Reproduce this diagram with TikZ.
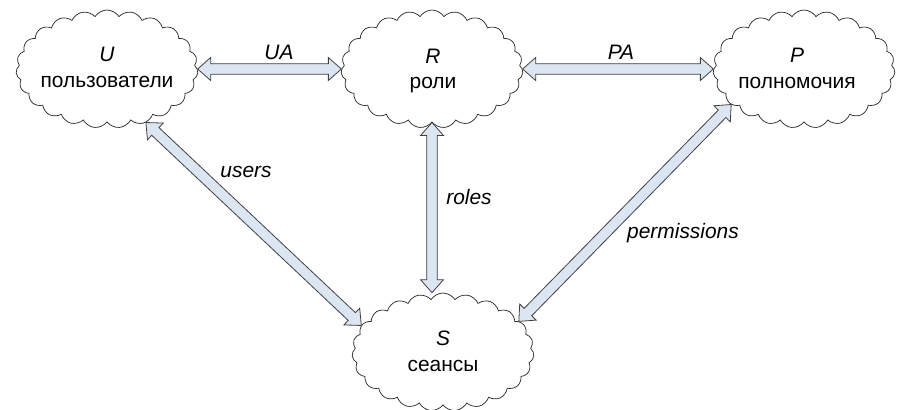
\documentclass[tikz,border=0pt]{standalone}
\usepackage{fontspec}
\setmainfont{Liberation Sans}
\usetikzlibrary{shapes.symbols,calc}
\definecolor{arrowfill}{HTML}{DCE6F2}
\definecolor{arrowline}{HTML}{404040}
\tikzset{
  cloudbox/.style={cloud, cloud puffs=23, cloud puff arc=115, cloud ignores aspect,
    draw=black!85, line width=0.7bp, fill=white,
    minimum width=182bp, minimum height=118bp, inner sep=0pt},
  cloudtext/.style={align=center, font=\fontsize{21}{26}\selectfont, inner sep=0pt},
  edgelabel/.style={font=\fontsize{21}{24}\selectfont\itshape, inner sep=0pt},
  % hollow double-headed block arrow between two points
  fatarrow/.style={draw=arrowline, fill=arrowfill, line width=0.8bp, line join=miter,
    to path={let \p1=(\tikztostart), \p2=(\tikztotarget),
      \n1={atan2(\y2-\y1,\x2-\x1)}, \n2={veclen(\x2-\x1,\y2-\y1)} in
      {[shift={(\p1)}, rotate=\n1]
        (0pt,0pt) -- (13bp,11.5bp) -- (13bp,5.3bp) -- ({\n2*1pt-13bp},5.3bp)
        -- ({\n2*1pt-13bp},11.5bp) -- ({\n2*1pt},0pt) -- ({\n2*1pt-13bp},-11.5bp)
        -- ({\n2*1pt-13bp},-5.3bp) -- (13bp,-5.3bp) -- (13bp,-11.5bp) -- cycle}}}
}
\begin{document}
\begin{tikzpicture}[x=1bp, y=-1bp]
  \useasboundingbox[fill=white] (0,0) rectangle (899,409);

  % sets
  \node[cloudbox] (U) at (107,69) {};
  \node[cloudbox] (R) at (432,69) {};
  \node[cloudbox] (P) at (804,69) {};
  \node[cloudbox] (S) at (443,352) {};

  \node[cloudtext] (Ut) at (107,67.5) {\textit{U}\\пользователи};
  \node[cloudtext] (Rt) at (433,71) {\textit{R}\\роли};
  \node[cloudtext] (Pt) at (797,68.5) {\textit{P}\\полномочия};
  \node[cloudtext] (St) at (443,351) {\textit{S}\\сеансы};

  % relations
  \draw[fatarrow] (U.east) to (R.west);
  \draw[fatarrow] (R.east) to (P.west);
  \draw[fatarrow] (U.-54) to (S.162);
  \draw[fatarrow] (R.south) to (R.south |- S.north);
  \draw[fatarrow] (P.206) to (S.22);

  % relation names
  \node[edgelabel] (UA) at (279,52) {UA};
  \node[edgelabel] (PA) at (621,52) {PA};
  \node[edgelabel] (users) at (246,172) {users};
  \node[edgelabel] (roles) at (469,197) {roles};
  \node[edgelabel] (perms) at (683,233) {permissions};
\end{tikzpicture}
\end{document}
